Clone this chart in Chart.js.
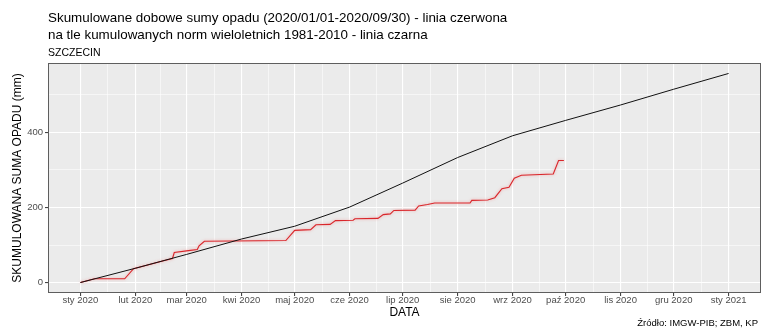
<!DOCTYPE html>
<html lang="pl">
<head>
<meta charset="utf-8">
<title>Skumulowane dobowe sumy opadu - Szczecin</title>
<script src="https://cdn.jsdelivr.net/npm/chart.js@4/dist/chart.umd.min.js"></script>
<style>
  html, body { margin: 0; padding: 0; background: #ffffff; }
  #wrap { width: 763px; height: 329px; }
</style>
</head>
<body>
<div id="wrap"><canvas id="c" width="763" height="329"></canvas></div>
<script>
// Cumulative daily precipitation 2020 (corner points of the running total), mm
const obsDates = [
  '2020-01-01','2020-01-09','2020-01-26','2020-01-31','2020-02-17','2020-02-22','2020-02-23',
  '2020-03-02','2020-03-07','2020-03-08','2020-03-11','2020-04-26','2020-05-01','2020-05-10',
  '2020-05-13','2020-05-21','2020-05-24','2020-06-03','2020-06-04','2020-06-17','2020-06-20',
  '2020-06-24','2020-06-26','2020-07-08','2020-07-10','2020-07-15','2020-07-19','2020-08-08',
  '2020-08-09','2020-08-18','2020-08-22','2020-08-26','2020-08-30','2020-09-02','2020-09-06',
  '2020-09-24','2020-09-27','2020-09-30'
];
const obsValues = [
  0, 10, 10, 37, 58, 64, 80,
  85, 88, 98, 110, 112, 139, 141,
  154, 155, 165, 166, 170, 171, 181,
  183, 192, 193, 204, 208, 212, 212,
  219, 220, 226, 250, 254, 278, 286,
  289, 325, 325
];

// Cumulative 1981-2010 normal, month starts, mm
const normDates = [
  '2020-01-01','2020-02-01','2020-03-01','2020-04-01','2020-05-01','2020-06-01','2020-07-01',
  '2020-08-01','2020-09-01','2020-10-01','2020-11-01','2020-12-01','2021-01-01'
];
const normValues = [0, 38, 75, 116, 150, 201, 265, 333, 391, 432, 473, 515, 557];

// Axis breaks and labels
const xTickDates = normDates;
const xTickLabels = [
  'sty 2020','lut 2020','mar 2020','kwi 2020','maj 2020','cze 2020','lip 2020',
  'sie 2020','wrz 2020','paź 2020','lis 2020','gru 2020','sty 2021'
];
const yTickValues = [0, 200, 400];
const yMinorValues = [100, 300, 500];

const titleLines = [
  'Skumulowane dobowe sumy opadu (2020/01/01-2020/09/30) - linia czerwona',
  'na tle kumulowanych norm wieloletnich 1981-2010 - linia czarna'
];
const subtitleText = 'SZCZECIN';
const yTitleText = 'SKUMULOWANA SUMA OPADU (mm)';
const xTitleText = 'DATA';
const captionText = 'Źródło: IMGW-PIB; ZBM, KP';

const FONT = "'Liberation Sans', Arial, Helvetica, sans-serif";
const DAY = 86400000;
const EPOCH = Date.UTC(2020, 0, 1);
function dayNum(s) {
  const [y, m, d] = s.split('-').map(Number);
  return (Date.UTC(y, m - 1, d) - EPOCH) / DAY;
}

const xMajor = xTickDates.map(dayNum);
const xMinor = xMajor.slice(0, -1).map((v, i) => (v + xMajor[i + 1]) / 2);
const xAll = xMajor.concat(xMinor).sort((a, b) => a - b);
const yAll = yTickValues.concat(yMinorValues).sort((a, b) => a - b);

const xSpan = xMajor[xMajor.length - 1] - xMajor[0];
const xPad = xSpan * 0.05;
const yMaxData = Math.max(...normValues, ...obsValues);
const yPad = yMaxData * 0.05;

const obsPoints = obsDates.map((d, i) => ({ x: dayNum(d), y: obsValues[i] }));
const normPoints = normDates.map((d, i) => ({ x: dayNum(d), y: normValues[i] }));

const isMajorX = v => xMajor.some(m => Math.abs(m - v) < 1e-6);
const isMajorY = v => yTickValues.includes(v);

const panelPlugin = {
  id: 'panel',
  beforeDraw(chart) {
    const { ctx, chartArea: a } = chart;
    ctx.save();
    ctx.fillStyle = '#ffffff';
    ctx.fillRect(0, 0, chart.width, chart.height);
    ctx.fillStyle = '#ebebeb';
    ctx.fillRect(a.left, a.top, a.right - a.left, a.bottom - a.top);
    ctx.restore();
  },
  beforeDatasetDraw(chart, args) {
    if (args.index === 0) {
      const ctx = chart.ctx;
      ctx.save();
      ctx.shadowColor = 'rgba(240, 110, 110, 0.6)';
      ctx.shadowBlur = 3;
    }
  },
  afterDatasetDraw(chart, args) {
    if (args.index === 0) chart.ctx.restore();
  },
  afterDraw(chart) {
    const { ctx, chartArea: a } = chart;
    ctx.save();
    // panel border
    ctx.strokeStyle = '#5e5e5e';
    ctx.lineWidth = 1;
    ctx.strokeRect(a.left + 0.5, a.top + 0.5, a.right - a.left - 1, a.bottom - a.top - 1);

    // titles
    ctx.fillStyle = '#000000';
    ctx.textAlign = 'left';
    ctx.textBaseline = 'alphabetic';
    ctx.font = '13.4px ' + FONT;
    ctx.fillText(titleLines[0], a.left, 22);
    ctx.fillText(titleLines[1], a.left, 39);
    ctx.font = '10.5px ' + FONT;
    ctx.fillText(subtitleText, a.left, 56);

    // axis titles
    ctx.font = '12px ' + FONT;
    ctx.textAlign = 'center';
    ctx.textBaseline = 'middle';
    ctx.fillText(xTitleText, (a.left + a.right) / 2, 313);
    ctx.save();
    ctx.translate(18, (a.top + a.bottom) / 2);
    ctx.rotate(-Math.PI / 2);
    ctx.fillText(yTitleText, 0, 0);
    ctx.restore();

    // caption
    ctx.font = '9.5px ' + FONT;
    ctx.textAlign = 'right';
    ctx.fillText(captionText, chart.width - 5, 323);
    ctx.restore();
  }
};

new Chart(document.getElementById('c'), {
  type: 'line',
  data: {
    datasets: [
      {
        label: 'opad 2020',
        data: obsPoints,
        borderColor: '#d9262b',
        borderWidth: 1.1,
        pointRadius: 0,
        tension: 0,
        fill: false,
        order: 2
      },
      {
        label: 'norma 1981-2010',
        data: normPoints,
        borderColor: '#111111',
        borderWidth: 1,
        pointRadius: 0,
        tension: 0,
        fill: false,
        order: 1
      }
    ]
  },
  options: {
    responsive: false,
    animation: false,
    devicePixelRatio: 1,
    layout: { padding: { top: 63, right: 2, bottom: 0, left: 0 } },
    plugins: { legend: { display: false }, tooltip: { enabled: false }, title: { display: false } },
    scales: {
      x: {
        type: 'linear',
        min: xMajor[0] - xPad,
        max: xMajor[xMajor.length - 1] + xPad,
        afterBuildTicks(scale) { scale.ticks = xAll.map(v => ({ value: v })); },
        afterFit(scale) { scale.height = 36; },
        border: { display: false },
        grid: {
          color: '#ffffff',
          lineWidth: c => (c.tick && isMajorX(c.tick.value)) ? 1.1 : 0.55,
          tickColor: c => (c.tick && isMajorX(c.tick.value)) ? '#444444' : 'rgba(0,0,0,0)',
          tickLength: 3,
          drawTicks: true
        },
        ticks: {
          autoSkip: false,
          maxRotation: 0,
          padding: -1,
          color: '#4d4d4d',
          font: { family: FONT, size: 9.5 },
          callback: v => {
            const i = xMajor.findIndex(m => Math.abs(m - v) < 1e-6);
            return i >= 0 ? xTickLabels[i] : '';
          }
        }
      },
      y: {
        type: 'linear',
        min: -yPad,
        max: yMaxData + yPad,
        afterBuildTicks(scale) { scale.ticks = yAll.map(v => ({ value: v })); },
        afterFit(scale) { scale.width = 48; },
        border: { display: false },
        grid: {
          color: '#ffffff',
          lineWidth: c => (c.tick && isMajorY(c.tick.value)) ? 1.1 : 0.55,
          tickColor: c => (c.tick && isMajorY(c.tick.value)) ? '#444444' : 'rgba(0,0,0,0)',
          tickLength: 3,
          drawTicks: true
        },
        ticks: {
          autoSkip: false,
          padding: 2,
          color: '#4d4d4d',
          font: { family: FONT, size: 9.5 },
          callback: v => isMajorY(v) ? String(v) : ''
        }
      }
    }
  },
  plugins: [panelPlugin]
});
</script>
</body>
</html>
